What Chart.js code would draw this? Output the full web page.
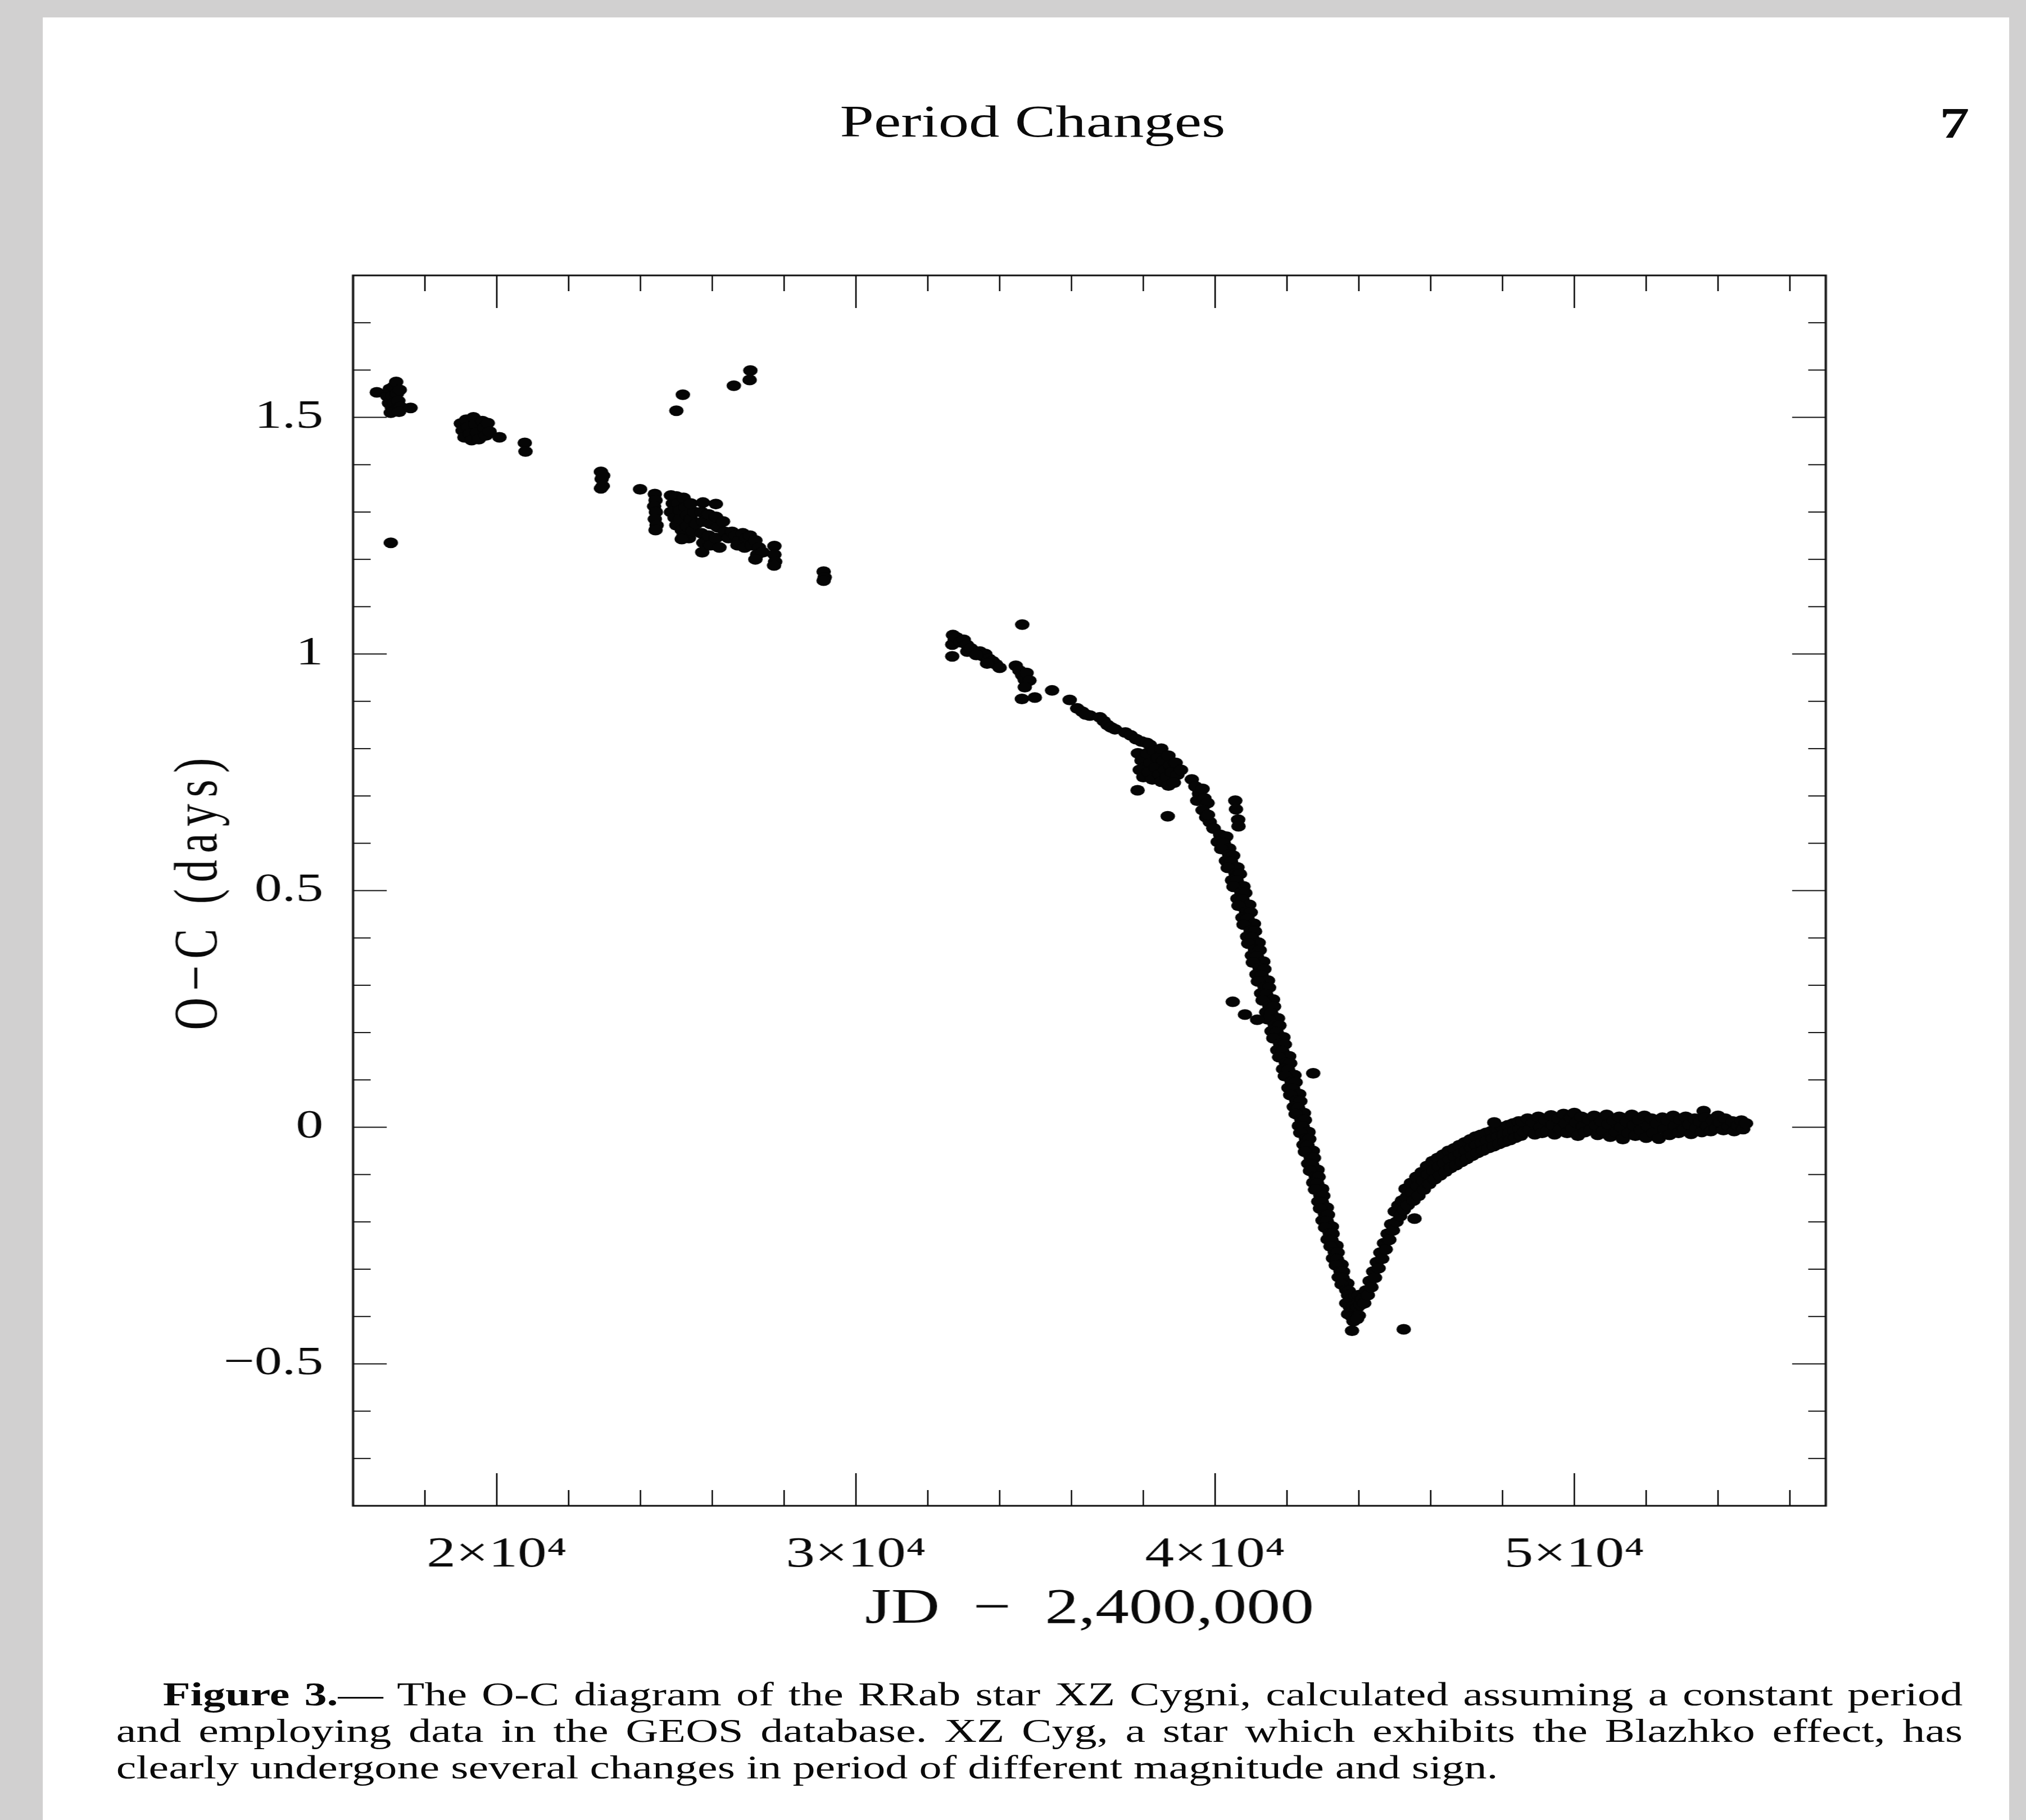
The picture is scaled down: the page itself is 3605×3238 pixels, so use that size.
<!DOCTYPE html>
<html>
<head>
<meta charset="utf-8">
<title>XZ Cyg O-C</title>
<script src="https://cdn.jsdelivr.net/npm/chart.js@4.4.1/dist/chart.umd.min.js"></script>
<style>
  html, body { margin: 0; padding: 0; background: #d1d0d0; }
  body { width: 3605px; height: 3238px; overflow: hidden; position: relative; }
  /* the sheet is laid out narrow and stretched sideways */
  #sheet { position: absolute; left: 0; top: 0; width: 2651px; height: 3238px;
           transform: scaleX(1.35986); transform-origin: 0 0;
           font-family: "Liberation Serif", serif; color: #0a0a0a; }
  #page { position: absolute; left: 56px; top: 31px; width: 2573px; height: 3207px; background: #fff; }
  #runhead { position: absolute; left: 1099px; top: 176px; font-size: 80px; line-height: 80px; white-space: nowrap; }
  #folio { position: absolute; left: 2538px; top: 179px; font-size: 78px; line-height: 80px; font-weight: bold; }
  #plot { position: absolute; left: 0; top: 0; }
  #caption { position: absolute; left: 152px; top: 2982px; width: 2416px; font-size: 59px; line-height: 65px; }
  #caption .ln span { display: inline-block; white-space: nowrap; }
  #caption .first { padding-left: 61px; }
</style>
</head>
<body>
<div id="sheet">
  <div id="page"></div>
  <div id="runhead">Period Changes</div>
  <div id="folio">7</div>
  <canvas id="plot" width="2651" height="2980"></canvas>
  <div id="caption">
    <div class="ln first"><span id="cap1"><b>Figure 3.</b>— The O-C diagram of the RRab star XZ Cygni, calculated assuming a constant period</span></div>
    <div class="ln"><span id="cap2">and employing data in the GEOS database. XZ Cyg, a star which exhibits the Blazhko effect, has</span></div>
    <div class="ln"><span id="cap3">clearly undergone several changes in period of different magnitude and sign.</span></div>
  </div>
</div>
<script>
// O-C residuals, [JD - 2400000, days]
const plates = [
  [16660,1.553],
  [16950,1.545],[17000,1.530],[17020,1.560],[17080,1.520],[17100,1.545],[17130,1.565],[17150,1.530],
  [17180,1.515],[17200,1.575],[17220,1.550],[17260,1.535],[17300,1.558],[17320,1.522],[17050,1.510],
  [17280,1.512],[17600,1.520],
  [17050,1.235],
  [19000,1.487],[19050,1.472],[19100,1.458],[19150,1.495],[19200,1.480],[19250,1.465],[19300,1.452],
  [19350,1.500],[19400,1.486],[19450,1.468],[19500,1.454],[19600,1.492],[19650,1.478],[19700,1.462],
  [19750,1.488],[19800,1.470],
  [20075,1.458],[20780,1.446],[20800,1.428],
  [22900,1.385],[22920,1.370],[22950,1.355],[22900,1.350],[22960,1.377],
  [23990,1.348],
  [24400,1.338],[24420,1.325],[24380,1.312],[24430,1.300],[24400,1.285],[24450,1.272],[24420,1.262],
  [24850,1.335],[24900,1.318],[24850,1.300],[24950,1.288],[25000,1.333],[25050,1.318],[25100,1.303],
  [25000,1.272],[25100,1.285],[25150,1.262],[25200,1.330],[25250,1.310],[25300,1.293],[25200,1.250],
  [25300,1.270],[25350,1.245],[25400,1.285],[25450,1.260],[25500,1.300],[25550,1.275],[25150,1.243],
  [25400,1.318],
  [25740,1.320],[26100,1.317],
  [25700,1.300],[25750,1.280],[25700,1.255],[25750,1.235],[25720,1.215],[25900,1.295],[25950,1.275],
  [25900,1.250],[25950,1.230],[26100,1.290],[26150,1.268],[26100,1.245],[26200,1.225],[26300,1.280],
  [26350,1.258],
  [26450,1.245],[26550,1.258],[26650,1.250],[26750,1.240],[26850,1.255],[26950,1.245],[27050,1.250],
  [26700,1.230],[26900,1.225],[27100,1.230],[27200,1.240],[27300,1.225],[27250,1.210],[27400,1.215],
  [27200,1.200],
  [27730,1.228],[27730,1.210],[27750,1.195],[27720,1.187],
  [29100,1.174],[29130,1.162],[29100,1.155],
  [25180,1.548],[25000,1.514],[26600,1.567],[27040,1.579],[27060,1.599]
];

const visual = [
  [32700,1.040],[32750,1.030],[32680,1.020],[32800,1.035],[32680,0.995],[32900,1.025],[33000,1.030],
  [33090,1.019],[33100,1.005],[33200,1.012],
  [33450,1.005],[33550,0.995],[33600,1.000],[33700,0.990],[33800,0.985],[33900,0.978],[34000,0.971],
  [33650,0.980],[33350,0.998],
  [34630,1.062],
  [34450,0.975],[34550,0.965],[34630,0.955],[34700,0.945],[34750,0.960],[34830,0.944],[34700,0.930],
  [34620,0.905],[34980,0.908],
  [35460,0.923],[35950,0.903],
  [36160,0.885],[36300,0.878],[36510,0.870],[36400,0.872],
  [36790,0.866],[36900,0.858],[37000,0.850],[37100,0.845],[37210,0.841],
  [37500,0.834],[37650,0.828],[37800,0.820],[37950,0.815],[38100,0.812],[38180,0.808],
  [37850,0.790],[37950,0.775],[38050,0.760],[37900,0.755],[38000,0.740],[38100,0.790],[38200,0.770],
  [38150,0.750],[38250,0.735],[38300,0.795],[38400,0.780],[38350,0.760],[38450,0.745],[38500,0.800],
  [38550,0.775],[38600,0.755],[38500,0.730],[38700,0.785],[38750,0.765],[38650,0.740],[38800,0.750],
  [38900,0.770],[38950,0.745],[38700,0.722],[38850,0.728],[39050,0.755],
  [37840,0.712],[38680,0.657],
  [39350,0.735],[39450,0.720],[39550,0.705],[39500,0.690],[39650,0.715],[39700,0.695],[39790,0.685],
  [39650,0.670],[39750,0.655],[39850,0.645],[39950,0.632],[39800,0.660],
  [40560,0.690],[40580,0.672],[40640,0.650],[40650,0.636]
];

const decline = [
  [39960,0.631],[40140,0.618],[40310,0.614],[40070,0.603],[40240,0.600],[40390,0.589],
  [40170,0.588],[40390,0.576],[40500,0.574],[40300,0.563],[40440,0.561],[40620,0.549],
  [40350,0.548],[40570,0.536],[40690,0.535],[40470,0.522],[40600,0.521],[40790,0.509],
  [40510,0.508],[40730,0.496],[40840,0.495],[40620,0.483],[40760,0.481],[40950,0.470],
  [40650,0.468],[40860,0.455],[40990,0.454],[40760,0.443],[40900,0.441],[41080,0.430],
  [40790,0.428],[40990,0.415],[41110,0.414],[40890,0.403],[41030,0.401],[41210,0.390],
  [40920,0.388],[41110,0.375],[41240,0.374],[41020,0.363],[41160,0.361],[41340,0.350],
  [41050,0.348],[41240,0.336],[41370,0.334],[41150,0.323],[41290,0.321],[41470,0.310],
  [41190,0.308],[41380,0.296],[41500,0.295],[41280,0.283],[41420,0.281],[41610,0.270],
  [41320,0.268],[41510,0.256],[41640,0.255],[41420,0.243],[41560,0.241],[41750,0.230],
  [41470,0.228],[41660,0.216],[41790,0.215],[41570,0.203],[41710,0.201],[41900,0.190],
  [41620,0.188],[41810,0.176],[41940,0.175],[41730,0.163],[41870,0.161],[42060,0.150],
  [41780,0.148],[41970,0.136],[42090,0.135],[41890,0.123],[42030,0.121],[42210,0.110],
  [41940,0.108],[42130,0.096],[42240,0.095],[42040,0.083],[42170,0.081],[42340,0.070],
  [42090,0.068],[42260,0.056],[42370,0.055],[42190,0.043],[42310,0.041],[42470,0.030],
  [42240,0.028],[42400,0.016],[42500,0.015],[42330,0.003],[42440,0.001],[42600,-0.010],
  [42370,-0.012],[42530,-0.024],[42620,-0.025],[42460,-0.037],[42570,-0.039],[42720,-0.050],
  [42500,-0.052],[42660,-0.064],[42750,-0.065],[42590,-0.077],[42700,-0.079],[42850,-0.090],
  [42640,-0.092],[42800,-0.104],[42880,-0.105],[42730,-0.117],[42840,-0.119],[42980,-0.130],
  [42780,-0.132],[42930,-0.144],[43010,-0.145],[42870,-0.157],[42970,-0.159],[43110,-0.170],
  [42920,-0.172],[43060,-0.184],[43140,-0.185],[42990,-0.197],[43110,-0.199],[43250,-0.210],
  [43060,-0.212],[43190,-0.224],[43270,-0.225],[43130,-0.237],[43240,-0.239],[43380,-0.250],
  [43210,-0.252],[43330,-0.264],[43410,-0.265],[43280,-0.277],[43390,-0.279],[43520,-0.290],
  [43360,-0.292],[43490,-0.304],[43560,-0.305],[43440,-0.317],[43550,-0.319],[43680,-0.330],
  [43520,-0.332],[43650,-0.344],[43720,-0.346],
  [43700,-0.355],[43800,-0.362],[43900,-0.360],[44000,-0.355],[43650,-0.372],[43750,-0.380],
  [43850,-0.378],[43950,-0.382],[44050,-0.375],[43700,-0.395],[43800,-0.400],[43900,-0.402],
  [44000,-0.398],[43850,-0.410],[43950,-0.405],[43810,-0.430],
  [40490,0.265],[40830,0.238],[41170,0.227],[42730,0.114]
];

const recovery = [
  [44100,-0.362],[44150,-0.372],[44200,-0.345],[44250,-0.355],[44300,-0.325],[44350,-0.338],
  [44400,-0.305],[44450,-0.318],[44500,-0.285],[44550,-0.298],[44600,-0.265],[44650,-0.278],
  [44700,-0.245],[44750,-0.258],[44800,-0.225],[44850,-0.238],[44900,-0.205],[44950,-0.218],
  [45000,-0.178],[45050,-0.200],[45100,-0.165],[45150,-0.188],[45200,-0.155],[45250,-0.175],
  [45300,-0.130],[45330,-0.148],[45360,-0.165],
  [45450,-0.118],[45480,-0.138],[45520,-0.155],[45600,-0.105],[45630,-0.125],[45660,-0.145],
  [45750,-0.095],[45780,-0.113],[45810,-0.132],[45900,-0.082],[45930,-0.100],[45960,-0.120],
  [46050,-0.072],[46080,-0.092],[46110,-0.110],[46200,-0.065],[46230,-0.083],[46260,-0.102],
  [46350,-0.058],[46380,-0.076],[46410,-0.094],[46500,-0.050],[46530,-0.068],[46560,-0.086],
  [46650,-0.045],[46680,-0.062],[46710,-0.080],[46800,-0.038],[46830,-0.056],[46860,-0.073],
  [46950,-0.032],[46980,-0.050],[47010,-0.067],[47100,-0.026],[47130,-0.044],[47160,-0.060],
  [47250,-0.020],[47280,-0.038],[47310,-0.054],[47400,-0.016],[47430,-0.033],[47460,-0.049],
  [47550,-0.012],[47580,-0.028],[47610,-0.044],[47700,-0.008],[47730,-0.024],[47760,-0.040],
  [47850,-0.004],[47880,-0.020],[47910,-0.035],[48000,0.000],[48030,-0.016],[48060,-0.031],
  [48150,0.004],[48180,-0.012],[48210,-0.027],[48300,0.008],[48330,-0.008],[48360,-0.022],
  [48450,0.012],[48480,-0.004],[48510,-0.018],
  [45250,-0.427],[45550,-0.193],[47770,0.010]
];

const recent = [
  [48550,0.012],[48600,-0.010],[48700,0.018],[48750,-0.005],[48850,0.010],[48900,-0.015],
  [49000,0.022],[49050,0.000],[49100,-0.012],[49200,0.015],[49250,-0.008],[49350,0.025],
  [49400,0.005],[49450,-0.015],[49550,0.018],[49600,-0.004],[49700,0.028],[49750,0.008],
  [49800,-0.012],[49900,0.020],[49950,-0.002],[50000,0.030],[50050,0.010],[50100,-0.018],
  [50200,0.022],[50250,0.002],[50300,-0.010],[50400,0.016],[50450,-0.006],[50550,0.024],
  [50600,0.004],[50650,-0.016],[50750,0.012],[50800,-0.008],[50900,0.026],[50950,0.006],
  [51000,-0.020],[51100,0.014],[51150,-0.010],[51250,0.022],[51300,0.000],[51350,-0.025],
  [51450,0.012],[51500,-0.012],[51600,0.026],[51650,0.004],[51700,-0.018],[51800,0.016],
  [51850,-0.006],[51950,0.024],[52000,-0.022],[52050,0.002],[52150,0.018],[52200,-0.012],
  [52300,0.008],[52350,-0.024],[52450,0.020],[52500,-0.004],[52600,0.014],[52650,-0.016],
  [52750,0.024],[52800,0.002],[52900,-0.012],[52950,0.016],[53050,-0.004],[53100,0.022],
  [53200,0.006],[53250,-0.014],[53350,0.018],[53400,-0.002],[53500,0.012],[53550,-0.010],
  [53600,0.034],[53650,0.020],[53700,0.002],[53800,-0.008],[53850,0.014],[53950,-0.002],
  [54000,0.024],[54050,0.010],[54150,-0.006],[54200,0.018],[54300,0.002],[54400,0.012],
  [54450,-0.008],[54550,0.004],[54650,0.014],[54700,-0.004],[54780,0.008]
];

const xMajor = [20000, 30000, 40000, 50000];
const xTickLabels = ['2×10⁴', '3×10⁴', '4×10⁴', '5×10⁴'];
const yMajor = [-0.5, 0, 0.5, 1, 1.5];
const yTickLabels = ['−0.5', '0', '0.5', '1', '1.5'];
const xTitle = 'JD  −  2,400,000';
const yTitle = 'O−C (days)';

const points = [...plates, ...visual, ...decline, ...recovery, ...recent].map(([x, y]) => ({ x, y }));

Chart.defaults.font.family = '"Liberation Serif", serif';
Chart.defaults.color = '#0a0a0a';

// box with inward ticks on all four sides
const frame = {
  id: 'frame',
  afterDraw(chart) {
    const { ctx, chartArea: a, scales: { x, y } } = chart;
    const seg = (x1, y1, x2, y2) => { ctx.beginPath(); ctx.moveTo(x1, y1); ctx.lineTo(x2, y2); ctx.stroke(); };
    ctx.save();
    ctx.strokeStyle = '#111';
    ctx.lineWidth = 2;
    for (let v = 18000; v <= 56000; v += 2000) {
      const px = x.getPixelForValue(v);
      const len = v % 10000 === 0 ? 58 : 28;
      seg(px, a.bottom, px, a.bottom - len);
      seg(px, a.top, px, a.top + len);
    }
    for (let i = -7; i <= 17; i++) {
      const py = y.getPixelForValue(i / 10);
      const len = i % 5 === 0 ? 44 : 23;
      seg(a.left, py, a.left + len, py);
      seg(a.right, py, a.right - len, py);
    }
    ctx.lineWidth = 3;
    ctx.strokeRect(a.left, a.top, a.right - a.left, a.bottom - a.top);
    ctx.restore();
  }
};

// rotated y title, spaced out a little
const sideTitle = {
  id: 'sideTitle',
  afterDraw(chart) {
    const { ctx, chartArea: a } = chart;
    ctx.save();
    ctx.translate(262, (a.top + a.bottom) / 2 + 6);
    ctx.rotate(-Math.PI / 2);
    ctx.font = '80px "Liberation Serif"';
    ctx.letterSpacing = '12px';
    ctx.fillStyle = '#0a0a0a';
    ctx.textAlign = 'center';
    ctx.textBaseline = 'middle';
    ctx.fillText(yTitle, 6, 0);
    ctx.restore();
  }
};

const chart = new Chart(document.getElementById('plot'), {
  type: 'scatter',
  data: {
    datasets: [{
      data: points,
      pointStyle: 'circle',
      pointRadius: 9.5,
      pointHoverRadius: 9.5,
      backgroundColor: '#050505',
      borderWidth: 0
    }]
  },
  options: {
    responsive: false,
    animation: false,
    devicePixelRatio: 1,
    layout: { padding: { left: 0, right: 262, top: 490, bottom: 0 } },
    plugins: { legend: { display: false }, tooltip: { enabled: false } },
    scales: {
      x: {
        type: 'linear',
        min: 16000,
        max: 57000,
        grid: { display: false, drawTicks: false },
        border: { display: false },
        afterBuildTicks: s => { s.ticks = xMajor.map(v => ({ value: v })); },
        afterFit: s => { s.height = 301; },
        ticks: {
          padding: 42,
          autoSkip: false,
          maxRotation: 0,
          font: { size: 76 },
          callback: (v, i) => xTickLabels[i]
        },
        title: {
          display: true,
          text: xTitle,
          font: { size: 88 },
          padding: { top: 0, bottom: 63 }
        }
      },
      y: {
        min: -0.8,
        max: 1.8,
        grid: { display: false, drawTicks: false },
        border: { display: false },
        afterBuildTicks: s => { s.ticks = yMajor.map(v => ({ value: v })); },
        afterFit: s => { s.width = 462; },
        ticks: {
          padding: 39,
          autoSkip: false,
          font: { size: 72 },
          callback: (v, i) => yTickLabels[i]
        }
      }
    }
  },
  plugins: [frame, sideTitle]
});

// spread the first two caption lines to the full measure
function justifyLine(id, target) {
  const el = document.getElementById(id);
  const gaps = (el.textContent.match(/ /g) || []).length;
  const w = el.offsetWidth;
  el.style.wordSpacing = ((target - w) / gaps) + 'px';
}
justifyLine('cap1', 2355);
justifyLine('cap2', 2416);
</script>
</body>
</html>
